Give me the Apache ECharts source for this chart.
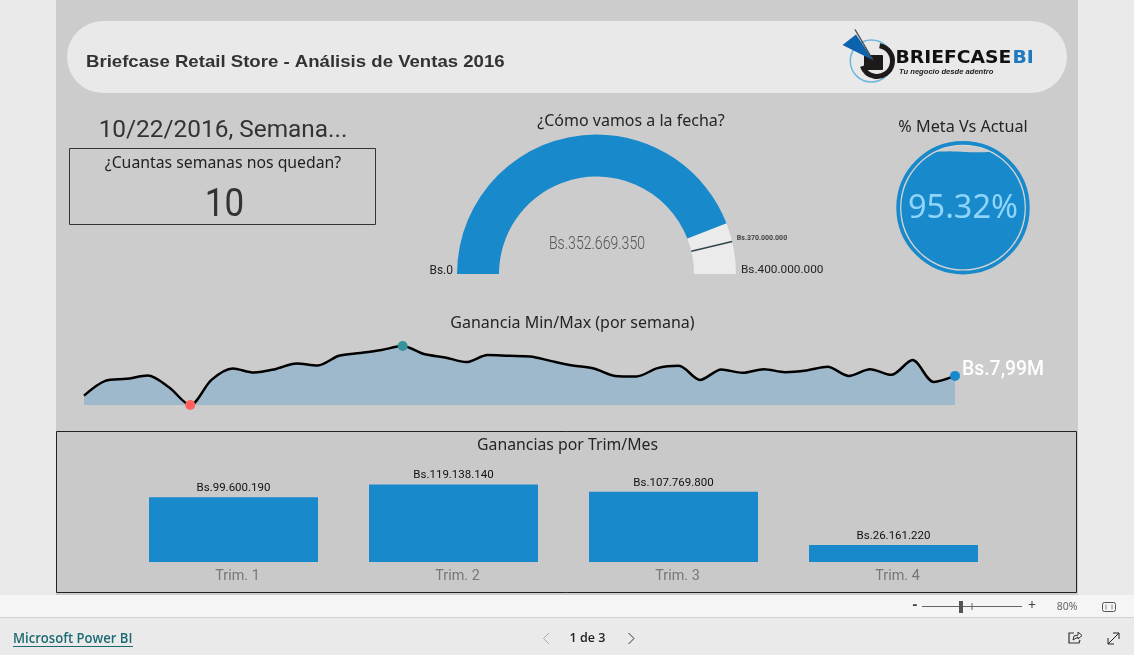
<!DOCTYPE html>
<html><head><meta charset="utf-8">
<style>html,body{margin:0;padding:0;background:#eaeaea;overflow:hidden}#c{width:1134px;height:655px}</style>
<script src="https://cdn.jsdelivr.net/npm/echarts@6/dist/echarts.min.js"></script>
</head><body><div id="c"></div>
<script>
const reportTitle = 'Briefcase Retail Store - Análisis de Ventas 2016';
const dateLabel = '10/22/2016, Semana...';
const weeksTitle = '¿Cuantas semanas nos quedan?';
const weeksLeft = '10';
const gaugeTitle = '¿Cómo vamos a la fecha?';
const gaugeActual = 352669350;
const gaugeTarget = 370000000;
const gaugeMin = 0;
const gaugeMax = 400000000;
const metaTitle = '% Meta Vs Actual';
const metaPct = 95.32;
const lineTitle = 'Ganancia Min/Max (por semana)';
const weeklyMillions = [5.73,7.42,7.65,8.03,6.69,4.66,7.53,8.84,8.38,8.76,9.41,9.18,10.29,10.60,10.95,11.41,10.49,10.10,9.57,10.37,10.29,10.22,9.68,9.18,8.84,7.99,7.92,8.88,9.14,7.53,8.72,8.34,8.76,8.42,8.61,9.03,7.99,8.76,8.11,9.80,7.30,7.99];
const barTitle = 'Ganancias por Trim/Mes';
const quarters = ['Trim. 1','Trim. 2','Trim. 3','Trim. 4'];
const quarterValues = [99600190,119138140,107769800,26161220];

const BLUE = '#1889ca';
const DIN = 'Roboto, "Noto Sans", sans-serif';
const SEG = '"Noto Sans", "Open Sans", sans-serif';
const bs = v => 'Bs.' + String(v).replace(/\B(?=(\d{3})+$)/g, '.');
const weekIdx = weeklyMillions.map((_, i) => i + 1);
const maxV = Math.max(...weeklyMillions), minV = Math.min(...weeklyMillions);
const lastI = weeklyMillions.length - 1;

const lineData = weeklyMillions.map((v, i) => {
  if (v === maxV) return {value: v, symbol: 'circle', symbolSize: 10, itemStyle: {color: '#37939b'}};
  if (v === minV) return {value: v, symbol: 'circle', symbolSize: 10, itemStyle: {color: '#fd625e'}};
  if (i === lastI) return {value: v, symbol: 'circle', symbolSize: 10, itemStyle: {color: BLUE},
    label: {show: true, position: 'right', distance: 2, offset: [0, -6], color: '#ffffff', fontFamily: DIN, fontWeight: 500, fontSize: 19.4,
      formatter: p => 'Bs.' + p.value.toFixed(2).replace('.', ',') + 'M'}};
  return {value: v, symbol: 'none'};
});

const t = (text, x, y, size, fill, opt) => ({type: 'text', silent: true, z: 5, x, y,
  scaleX: (opt && opt.sx) || 1,
  style: {text, fill, font: `${(opt && opt.w) || 400} ${size}px ${(opt && opt.f) || SEG}`, align: (opt && opt.a) || 'center', verticalAlign: 'middle'}});
const rect = (x, y, w, h, s, z) => ({type: 'rect', silent: true, z: z || 0, shape: {x, y, width: w, height: h, r: s.r || 0}, style: {fill: s.fill || 'none', stroke: s.stroke || 'none', lineWidth: s.lw || 1}});
const line = (x1, y1, x2, y2, c, w) => ({type: 'line', silent: true, z: 5, shape: {x1, y1, x2, y2}, style: {stroke: c, lineWidth: w || 1}});
const poly = (points, c, w) => ({type: 'polyline', silent: true, z: 5, shape: {points}, style: {fill: 'none', stroke: c, lineWidth: w || 1}});

const graphics = [
  rect(56, 0, 1022, 595, {fill: '#cccccc'}),
  rect(0, 595, 1134, 22, {fill: '#f5f5f5'}),
  rect(0, 617, 1134, 1, {fill: '#d2d2d2'}),
  rect(0, 618, 1134, 37, {fill: '#eaeaea'}),
  rect(67, 21, 1000, 72, {fill: '#e9e9e9', r: 36}),
  t(reportTitle, 86, 62.5, 17, '#333333', {a: 'left', w: 700, f: '"Liberation Sans", Arial, sans-serif', sx: 1.094}),
  // logo
  {type: 'circle', silent: true, z: 4, shape: {cx: 871.3, cy: 61, r: 21}, style: {fill: 'none', stroke: '#6db8dc', lineWidth: 1.5}},
  {type: 'arc', silent: true, z: 4, shape: {cx: 877, cy: 61, r: 15.5, startAngle: -1.4, endAngle: 2.8}, style: {fill: 'none', stroke: '#1e1a1a', lineWidth: 5}},
  rect(864, 55, 19, 15, {fill: '#1e1a1a', r: 1}, 4),
  {type: 'polygon', silent: true, z: 5, shape: {points: [[873.5, 60.5], [842.5, 45], [856, 34.5]]}, style: {fill: '#0b62ad'}},
  line(855, 29.5, 873, 60, '#444444', 1.3),
  t('BRIEFCASE', 895.5, 58, 17.5, '#111111', {a: 'left', w: 700, f: '"DejaVu Sans", sans-serif', sx: 1.07}),
  t('BI', 1012.5, 58, 17.5, '#1c78c0', {a: 'left', w: 700, f: '"DejaVu Sans", sans-serif', sx: 1.07}),
  t('Tu negocio desde adentro', 899, 71.5, 7.6, '#222222', {a: 'left', w: 'italic 700', f: '"Liberation Sans", sans-serif'}),
  // date + card
  t(dateLabel, 223, 131, 24.4, '#333333', {f: DIN}),
  rect(69.5, 148.5, 306, 76, {stroke: '#333333'}),
  t(weeksTitle, 223, 163, 15.8, '#222222'),
  t(weeksLeft, 224.5, 206, 38, '#333333', {f: DIN, sx: 0.92}),
  // gauge texts
  t(gaugeTitle, 631, 121.5, 16, '#252525'),
  t(bs(gaugeActual), 597, 244.5, 18.5, '#555555', {f: DIN, w: 300, sx: 0.76}),
  t(bs(gaugeMin), 453, 270.5, 12, '#252525', {a: 'right', f: DIN}),
  t(bs(gaugeMax), 741, 270.5, 11.8, '#252525', {a: 'left', f: DIN}),
  t(metaTitle, 963, 127.5, 16.2, '#252525'),
  t(lineTitle, 572.5, 323, 16, '#252525'),
  // bar panel
  rect(56.5, 431.5, 1020, 161, {fill: '#c9c9c9', stroke: '#222222'}),
  t(barTitle, 567.5, 445, 15.8, '#252525'),
  // status strip
  t('-', 915, 605, 15, '#444444', {w: 700}),
  line(922, 606.5, 1022, 606.5, '#666666', 1),
  line(972, 603, 972, 610, '#666666', 1),
  rect(959, 601, 4, 12, {fill: '#555555'}, 6),
  t('+', 1032, 606, 14, '#444444'),
  t('80%', 1067, 607, 10.5, '#666666'),
  rect(1102.5, 602.5, 13, 9, {stroke: '#555555', r: 2}, 5),
  line(1106, 604.5, 1106, 609.5, '#888888', 1),
  line(1112, 604.5, 1112, 609.5, '#888888', 1),
  // footer
  t('Microsoft Power BI', 13, 639, 13.5, '#1c6b73', {a: 'left', w: 600, f: '"Open Sans", sans-serif', sx: 0.97}),
  line(13, 646.5, 133, 646.5, '#1c6b73', 1),
  t('1 de 3', 587.5, 638.5, 12.5, '#222222', {w: 600, f: '"Open Sans", sans-serif'}),
  poly([[549, 633], [543.5, 638.5], [549, 644]], '#aaaaaa'),
  poly([[628.5, 633], [634, 638.5], [628.5, 644]], '#333333'),
  poly([[1074, 633], [1069, 633], [1069, 643], [1079, 643], [1080, 640]], '#333333', 1.2),
  poly([[1073, 640], [1074, 636], [1078, 635], [1078, 632], [1082, 635.5], [1078, 639], [1078, 637], [1073, 640]], '#333333', 1),
  line(1108, 644, 1119, 633, '#222222', 1),
  poly([[1113, 633], [1119, 633], [1119, 639]], '#222222'),
  poly([[1108, 638], [1108, 644], [1114, 644]], '#222222')
];

const chart = echarts.init(document.getElementById('c'), null, {renderer: 'canvas'});
chart.setOption({
  animation: false,
  backgroundColor: '#eaeaea',
  graphic: {elements: graphics},
  grid: [
    {left: 84, width: 871, top: 346, height: 59, containLabel: false},
    {left: 123.5, width: 880, top: 450, height: 112, containLabel: false}
  ],
  xAxis: [
    {gridIndex: 0, type: 'category', data: weekIdx, boundaryGap: false, show: false},
    {gridIndex: 1, type: 'category', data: quarters, axisLine: {show: false}, axisTick: {show: false},
     axisLabel: {color: '#777777', fontFamily: DIN, fontSize: 14.4, margin: 7, padding: [0, 0, 0, 8]}}
  ],
  yAxis: [
    {gridIndex: 0, type: 'value', min: minV, max: maxV, show: false},
    {gridIndex: 1, type: 'value', min: 0, max: 172000000, show: false}
  ],
  series: [
    {type: 'line', xAxisIndex: 0, yAxisIndex: 0, data: lineData, smooth: 0.3, clip: false, z: 3,
     lineStyle: {color: '#000000', width: 2.5}, areaStyle: {color: '#9eb9cc', opacity: 1, origin: 'start'}},
    {type: 'bar', xAxisIndex: 1, yAxisIndex: 1, data: quarterValues, barWidth: 169, z: 3,
     itemStyle: {color: BLUE},
     label: {show: true, position: 'top', distance: 3, color: '#111111', fontFamily: DIN, fontSize: 11.5, formatter: p => bs(p.value)}},
    {type: 'gauge', center: [596.5, 274], radius: 139.5, startAngle: 180, endAngle: 0, min: gaugeMin, max: gaugeMax, z: 3,
     axisLine: {lineStyle: {width: 42, color: [[gaugeActual / gaugeMax, BLUE], [1, '#ebebeb']]}},
     axisTick: {show: false}, splitLine: {show: false}, axisLabel: {show: false}, pointer: {show: false}, title: {show: false}, anchor: {show: false},
     detail: {show: false},
     data: [{value: gaugeActual}]},
    {type: 'gauge', center: [596.5, 274], radius: 139.5, startAngle: 180, endAngle: 0, min: gaugeMin, max: gaugeMax, z: 4,
     axisLine: {show: false}, axisTick: {show: false}, splitLine: {show: false}, axisLabel: {show: false}, title: {show: false}, anchor: {show: false},
     pointer: {show: true, icon: 'rect', width: 1.5, length: 42, offsetCenter: [0, -97.5], itemStyle: {color: '#2f4548'}},
     detail: {offsetCenter: [165.5, -35.5], color: '#444444', fontFamily: DIN, fontSize: 7, formatter: v => bs(v)},
     data: [{value: gaugeTarget}]},
    {type: 'custom', coordinateSystem: 'none', z: 3, data: [[metaPct]],
     renderItem: (params, api) => {
       const v = api.value(0), cx = 963, cy = 207.7, R = 61.6;
       const level = cy + R - 2 * R * v / 100;
       const pts = [];
       for (let i = 0; i < 240; i++) {
         const a = i / 240 * Math.PI * 2, x = cx + R * Math.cos(a);
         pts.push([x, Math.max(cy + R * Math.sin(a), level + 0.5 * Math.sin((x - cx) / 9))]);
       }
       return {type: 'group', children: [
         {type: 'circle', shape: {cx, cy, r: 63.2}, style: {fill: 'none', stroke: '#d6d6d6', lineWidth: 2.4}},
         {type: 'circle', shape: {cx, cy, r: 64.8}, style: {fill: 'none', stroke: BLUE, lineWidth: 3.8}},
         {type: 'polygon', shape: {points: pts}, style: {fill: BLUE}},
         {type: 'text', style: {text: v.toFixed(2) + '%', x: cx, y: cy + 1.5, align: 'center', verticalAlign: 'middle', fill: '#8fd4fa', font: '400 32.5px "Noto Sans", sans-serif'}}
       ]};
     }}
  ]
});
</script></body></html>
